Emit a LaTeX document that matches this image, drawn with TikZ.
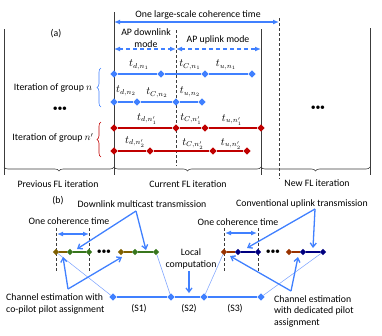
\documentclass[tikz,border=0pt]{standalone}
\usepackage{fontspec}
\setmainfont{Carlito}
\usetikzlibrary{shapes.geometric,arrows.meta,decorations.pathreplacing}
\definecolor{myblue}{RGB}{64,128,255}
\definecolor{mylightblue}{RGB}{120,160,255}
\definecolor{myred}{RGB}{192,0,0}
\definecolor{mybrownL}{RGB}{127,96,0}
\definecolor{mygreen}{RGB}{56,118,29}
\definecolor{mybrownR}{RGB}{153,51,0}
\definecolor{mynavy}{RGB}{0,0,128}
\definecolor{myline}{RGB}{60,60,60}
\tikzset{
  lbl/.style={font=\fontsize{9.8}{11.5}\selectfont, inner sep=0pt, align=center},
  mlbl/.style={font=\fontsize{10.5}{12}\selectfont, inner sep=0pt},
  dia/.style={diamond, minimum size=7.5pt, inner sep=0pt, fill=#1},
  sdia/.style={diamond, minimum size=6.5pt, inner sep=0pt, fill=#1},
  vline/.style={draw=myline, line width=0.6pt},
  vdash/.style={draw=myline, line width=0.6pt, dash pattern=on 3pt off 2pt},
  rowline/.style={line width=1.2pt},
  bigarrow/.style={myblue, line width=1.2pt, {Latex[length=6pt,width=5pt]}-{Latex[length=6pt,width=5pt]}},
  modearrow/.style={myblue, line width=1.2pt, dash pattern=on 4pt off 3pt, {Latex[length=6pt,width=5pt]}-{Latex[length=6pt,width=5pt]}},
  callout/.style={myblue, line width=1.3pt, -{Straight Barb[length=4pt,width=6pt]}},
  thinl/.style={mylightblue, line width=0.5pt},
  bracedec/.style={decorate, decoration={brace, amplitude=4pt}, line width=0.6pt},
}
\begin{document}
\begin{tikzpicture}[x=1pt,y=-1pt]
\useasboundingbox (0,0) rectangle (382,335);

% ---------------- (a) ----------------
\draw[vline] (4,29) -- (4,175);
\draw[vline] (114,12) -- (114,175);
\draw[vdash] (176,30) -- (176,166);
\draw[vline] (261,29) -- (261,175);
\draw[vdash] (279,18) -- (279,179);
\draw[vline] (370,28) -- (370,175);

\node[lbl] (ttl) at (198,15) {One large-scale coherence time};
\coordinate (ta) at (114,22);
\coordinate (tb) at (279,22);
\draw[bigarrow] (ta) -- (tb);

\node[lbl] (la) at (56,34) {(a)};
\node[lbl] (dlm) at (146,38) {AP downlink\\mode};
\node[lbl] (ulm) at (218,40) {AP uplink mode};
\coordinate (ma) at (114,49);
\coordinate (mb) at (176,49);
\coordinate (mc) at (261,49);
\draw[modearrow] (ma) -- (mb);
\draw[modearrow] (mb) -- (mc);

% blue rows
\node[dia=myblue] (a1) at (114,74) {};
\node[dia=myblue] (a2) at (161,74) {};
\node[dia=myblue] (a3) at (205,74) {};
\node[dia=myblue] (a4) at (252,74) {};
\draw[rowline, myblue] (a1) -- (a2) -- (a3) -- (a4);
\node[mlbl] (la1) at (139,65) {$t_{d,n_1}$};
\node[mlbl] (la2) at (190,65) {$t_{C,n_1}$};
\node[mlbl] (la3) at (226,65) {$t_{u,n_1}$};

\node[dia=myblue] (b1) at (114,102) {};
\node[dia=myblue] (b2) at (137,102) {};
\node[dia=myblue] (b3) at (176,102) {};
\node[dia=myblue] (b4) at (202,102) {};
\draw[rowline, myblue] (b1) -- (b2) -- (b3) -- (b4);
\node[mlbl] (lb1) at (126,91) {$t_{d,n_2}$};
\node[mlbl] (lb2) at (157,93) {$t_{C,n_2}$};
\node[mlbl] (lb3) at (190,92) {$t_{u,n_2}$};

% red rows
\node[dia=myred] (c1) at (114,128) {};
\node[dia=myred] (c2) at (176,128) {};
\node[dia=myred] (c3) at (205,128) {};
\node[dia=myred] (c4) at (261,128) {};
\draw[rowline, myred] (c1) -- (c2) -- (c3) -- (c4);
\node[mlbl] (lc1) at (147,119) {$t_{d,n'_1}$};
\node[mlbl] (lc2) at (191,119) {$t_{C,n'_1}$};
\node[mlbl] (lc3) at (232,120) {$t_{u,n'_1}$};

\node[dia=myred] (e1) at (114,151) {};
\node[dia=myred] (e2) at (150,151) {};
\node[dia=myred] (e3) at (213,151) {};
\node[dia=myred] (e4) at (247,151) {};
\draw[rowline, myred] (e1) -- (e2) -- (e3) -- (e4);
\node[mlbl] (le1) at (135,142) {$t_{d,n'_2}$};
\node[mlbl] (le2) at (193,144) {$t_{C,n'_2}$};
\node[mlbl] (le3) at (231,144) {$t_{u,n'_2}$};

% group braces
\draw[bracedec, myblue] (101,107) -- (101,68);
\draw[bracedec, myred] (101,157) -- (101,122);
\node[lbl] (g1) at (53,88) {Iteration of group $n$};
\node[lbl] (g2) at (53,138) {Iteration of group $n'$};
\node[lbl] (dl) at (60,109) {\textbullet\kern-0.3pt\textbullet\kern-0.3pt\textbullet};
\node[lbl] (dr) at (318,108) {\textbullet\kern-0.3pt\textbullet\kern-0.3pt\textbullet};

% bottom braces
\draw[bracedec, myline] (114,167) -- (4,167);
\draw[bracedec, myline] (261,167) -- (114,167);
\draw[bracedec, myline] (370,167) -- (261,167);
\node[lbl] (pfl) at (58,184) {Previous FL iteration};
\node[lbl] (cfl) at (188,184) {Current FL iteration};
\node[lbl] (nfl) at (317,183) {New FL iteration};

% ---------------- (b) ----------------
\node[lbl] (lb) at (58,201) {(b)};
\node[lbl] (dmt) at (142,204) {Downlink multicast transmission};
\node[lbl] (cut) at (302,204) {Conventional uplink transmission};
\node[lbl] (oct1) at (69,221) {One coherence time};
\node[lbl] (oct2) at (238,222) {One coherence time};

\draw[vdash] (56,228) -- (56,272);
\draw[vdash] (89,228) -- (89,272);
\draw[vdash] (224,228) -- (224,272);
\draw[vdash] (258,228) -- (258,272);
\coordinate (o1a) at (57,234);
\coordinate (o1b) at (89,234);
\coordinate (o2a) at (225,233);
\coordinate (o2b) at (257,233);
\draw[bigarrow] (o1a) -- (o1b);
\draw[bigarrow] (o2a) -- (o2b);

% left groups
\node[sdia=mybrownL] (p1) at (56,252) {};
\node[sdia=mygreen] (p2) at (70,252) {};
\node[sdia=mygreen] (p3) at (89,252) {};
\draw[rowline, mybrownL] (p1) -- (p2);
\draw[rowline, mygreen] (p2) -- (p3);
\node[lbl] (pd) at (104,252) {\textbullet\kern-0.3pt\textbullet\kern-0.3pt\textbullet};
\node[sdia=mybrownL] (q1) at (121,252) {};
\node[sdia=mygreen] (q2) at (135,252) {};
\node[sdia=mygreen] (q3) at (156,252) {};
\draw[rowline, mybrownL] (q1) -- (q2);
\draw[rowline, mygreen] (q2) -- (q3);

% right groups
\node[sdia=mybrownR] (r1) at (224,252) {};
\node[sdia=mynavy] (r2) at (238,252) {};
\node[sdia=mynavy] (r3) at (258,252) {};
\draw[rowline, mybrownR] (r1) -- (r2);
\draw[rowline, mynavy] (r2) -- (r3);
\node[lbl] (rd) at (273,252) {\textbullet\kern-0.3pt\textbullet\kern-0.3pt\textbullet};
\node[sdia=mybrownR] (u1) at (289,252) {};
\node[sdia=mynavy] (u2) at (303,252) {};
\node[sdia=mynavy] (u3) at (323,252) {};
\draw[rowline, mybrownR] (u1) -- (u2);
\draw[rowline, mynavy] (u2) -- (u3);

% bottom stage line
\node[dia=myblue] (s0) at (113,297) {};
\node[dia=myblue] (s1) at (171,297) {};
\node[dia=myblue] (s2) at (204,297) {};
\node[dia=myblue] (s3) at (261,297) {};
\draw[rowline, myblue] (s0) -- (s1) -- (s2) -- (s3);
\node[lbl] (ls1) at (139,309) {(S1)};
\node[lbl] (ls2) at (189,309) {(S2)};
\node[lbl] (ls3) at (235,309) {(S3)};

\draw[thinl] (p1) -- (s0);
\draw[thinl] (q3) -- (s1);
\draw[thinl] (r1) -- (s2);
\draw[thinl] (u3) -- (s3);

\node[lbl] (loc) at (191,259) {Local\\computation};
\coordinate (lca) at (189,271);
\coordinate (lcb) at (189,293);
\draw[callout] (lca) -- (lcb);

% callouts
\coordinate (dap) at (136,211);
\coordinate (dt1) at (77,249);
\coordinate (dt2) at (146,250);
\draw[callout] (dap) -- (dt1);
\draw[callout] (dap) -- (dt2);

\coordinate (uap) at (315,209);
\coordinate (ut1) at (247,248);
\coordinate (ut2) at (313,248);
\draw[callout] (uap) -- (ut1);
\draw[callout] (uap) -- (ut2);

\coordinate (cv) at (68,289);
\coordinate (ct1) at (63,257);
\coordinate (ct2) at (122,257);
\draw[callout] (cv) -- (ct1);
\draw[callout] (cv) -- (ct2);

\coordinate (ev) at (291,291);
\coordinate (et1) at (230,256);
\coordinate (et2) at (298,257);
\draw[callout] (ev) -- (et1);
\draw[callout] (ev) -- (et2);

\node[lbl, align=left, anchor=west] (cep) at (6,304) {Channel estimation with\\co-pilot pilot assignment};
\node[lbl, align=left, anchor=west] (ced) at (274,311) {Channel estimation\\with dedicated pilot\\assignment};
\end{tikzpicture}
\end{document}
